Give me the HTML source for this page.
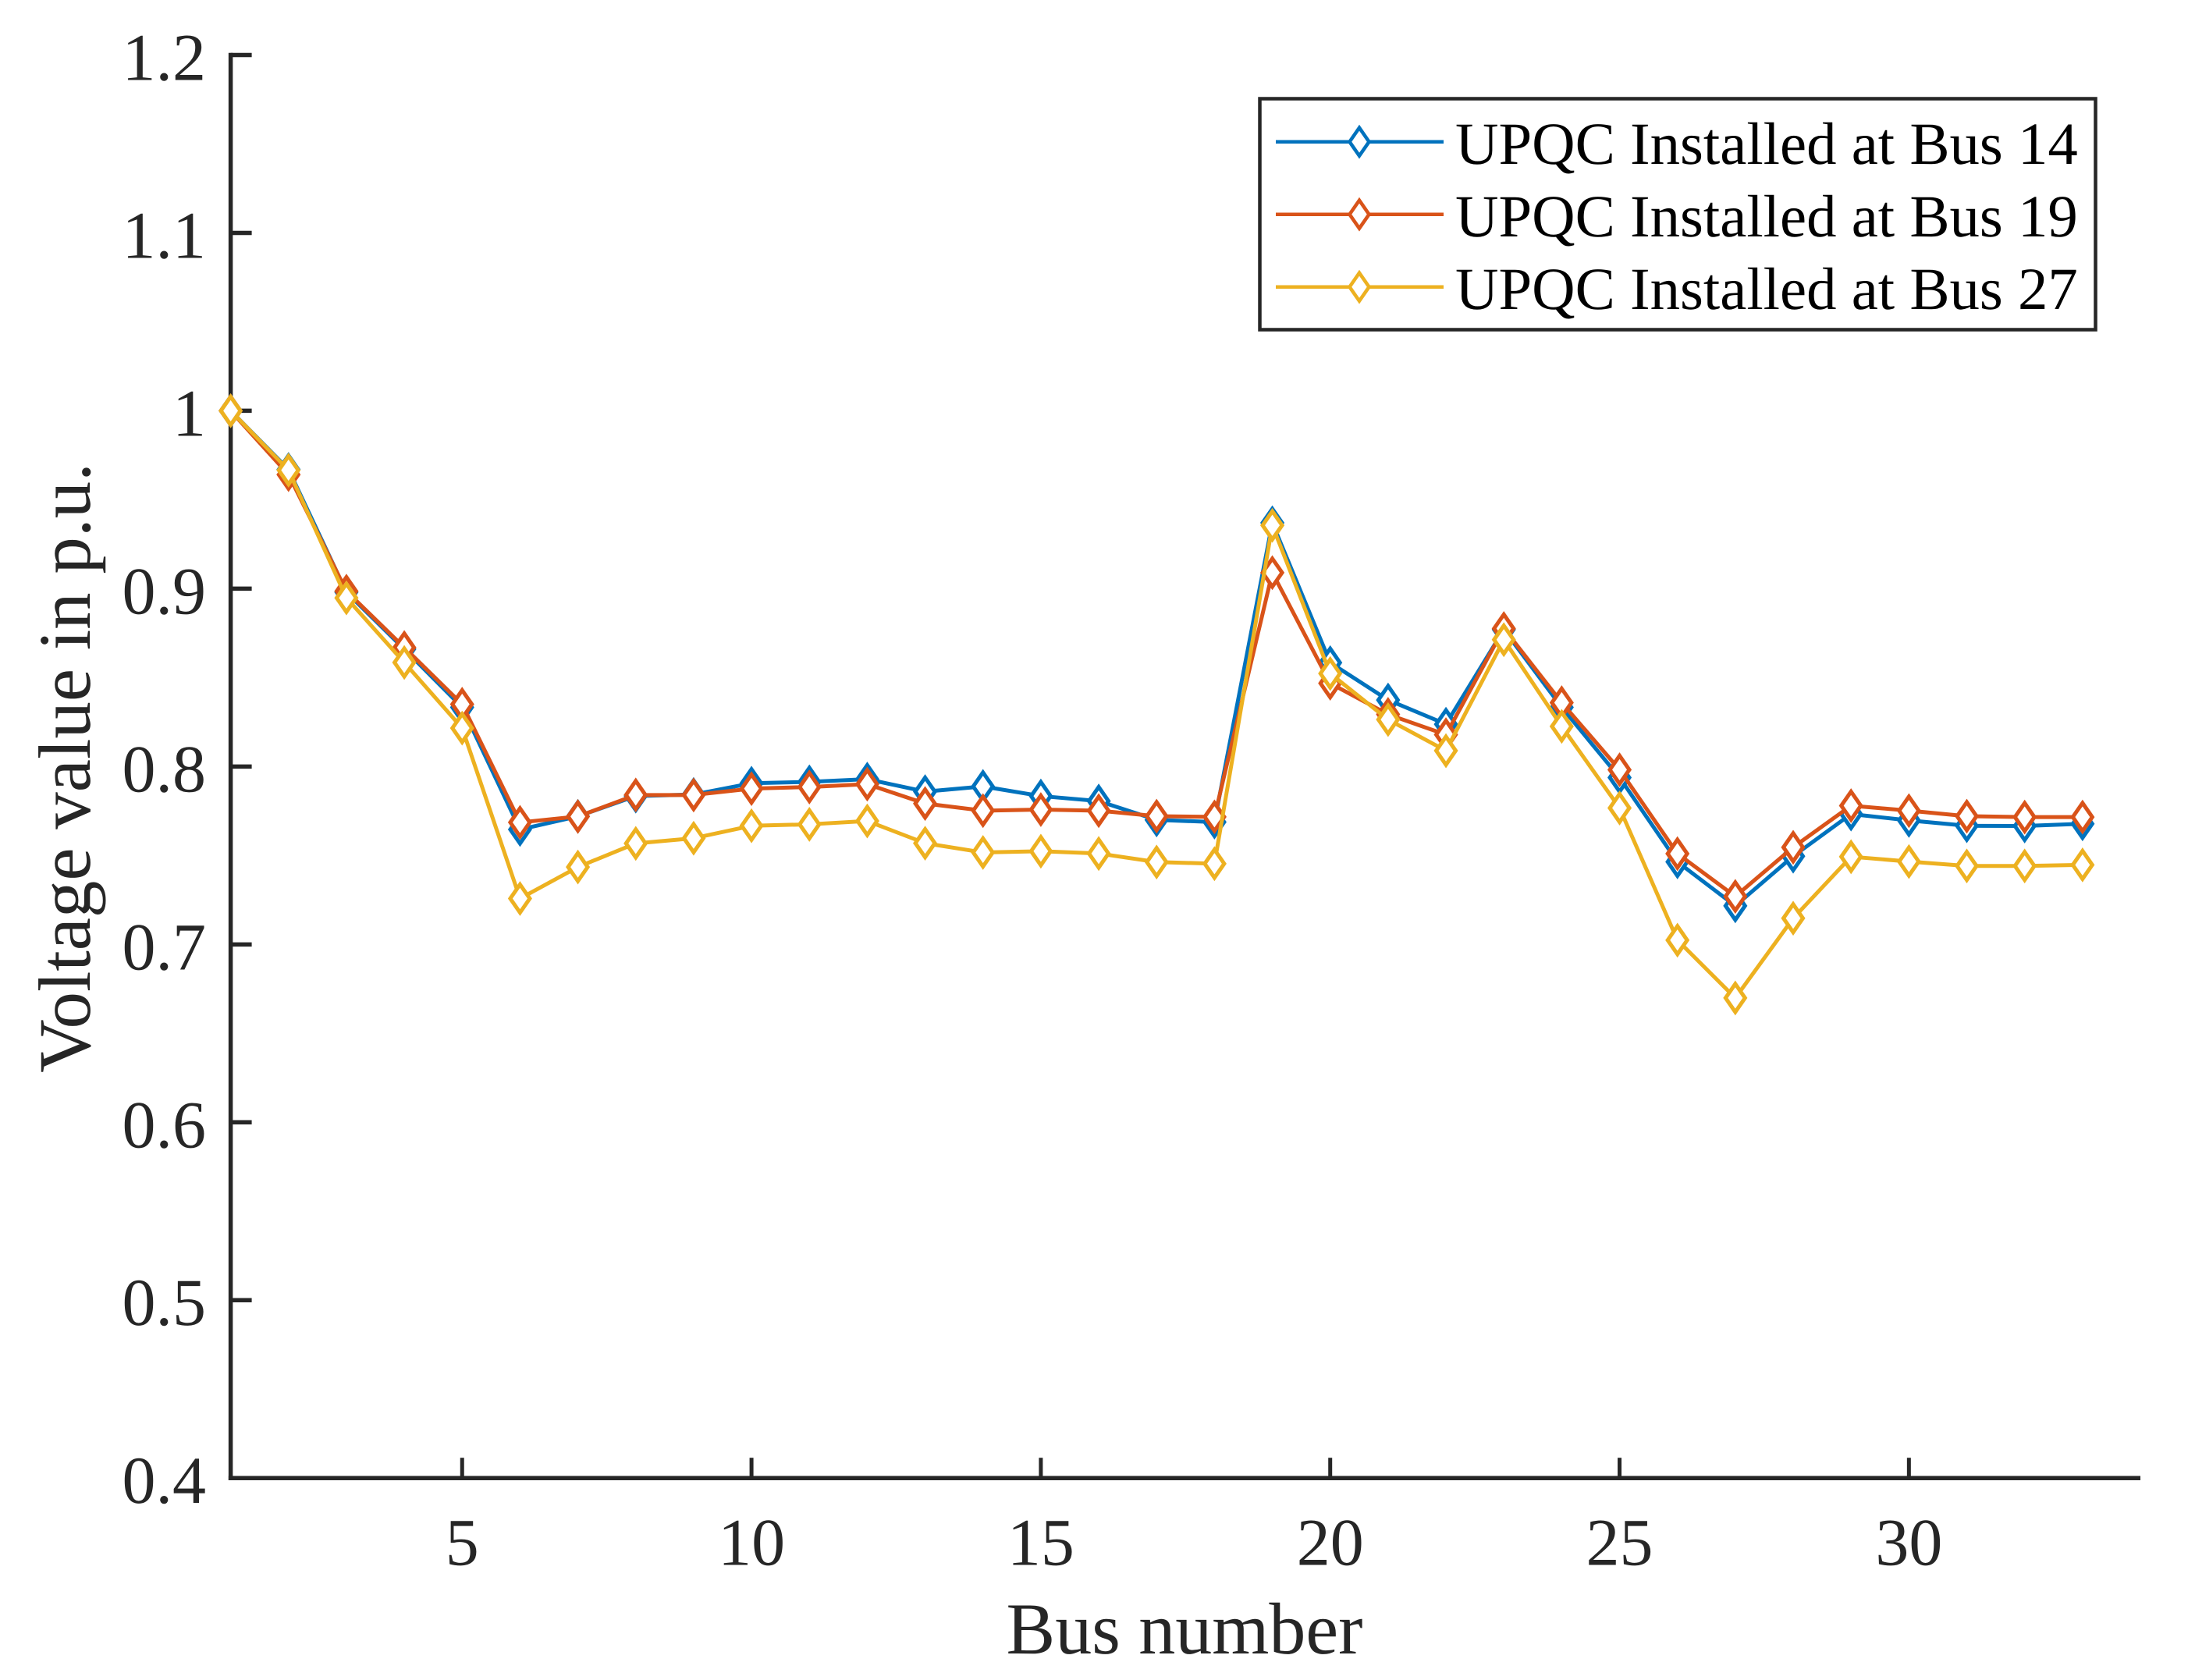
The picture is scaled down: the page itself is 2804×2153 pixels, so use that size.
<!DOCTYPE html>
<html lang="en">
<head>
<meta charset="utf-8">
<title>Voltage profile by bus number</title>
<style>
  html, body { margin: 0; padding: 0; background: #ffffff; }
  svg { display: block; }
  text { font-family: "Liberation Serif", "Times New Roman", serif; text-rendering: geometricPrecision; }
</style>
</head>
<body>
<svg id="chart" xmlns="http://www.w3.org/2000/svg" width="2804" height="2153" viewBox="0 0 2804 2153">
  <rect x="0" y="0" width="2804" height="2153" fill="#ffffff"/>
  <g id="axes"></g>
  <g id="series"></g>
  <text x="1518" y="2119" font-size="94" fill="#262626" text-anchor="middle">Bus number</text>
  <text x="0" y="0" transform="translate(115 984) rotate(-90)" font-size="95" fill="#262626" text-anchor="middle">Voltage value in p.u.</text>
  <g id="legend">
    <rect x="1614.5" y="126.5" width="1071" height="296" fill="#ffffff" stroke="#262626" stroke-width="4.5"/>
  </g>
</svg>
<script>
const buses = [1,2,3,4,5,6,7,8,9,10,11,12,13,14,15,16,17,18,19,20,21,22,23,24,25,26,27,28,29,30,31,32,33];
const bus14Values = [1.0,0.9670,0.8980,0.8660,0.8333,0.7646,0.7720,0.7834,0.7843,0.7906,0.7914,0.7929,0.7859,0.7888,0.7834,0.7806,0.7700,0.7688,0.9370,0.8584,0.8374,0.8238,0.8770,0.8333,0.7938,0.7464,0.7217,0.7496,0.7733,0.7697,0.7667,0.7666,0.7678];
const bus19Values = [1.0,0.9641,0.8986,0.8669,0.8350,0.7686,0.7719,0.7840,0.7840,0.7876,0.7885,0.7901,0.7792,0.7752,0.7758,0.7752,0.7721,0.7717,0.9090,0.8468,0.8293,0.8179,0.8776,0.8359,0.7982,0.7510,0.7270,0.7546,0.7780,0.7752,0.7721,0.7716,0.7716];
const bus27Values = [1.0,0.9666,0.8948,0.8585,0.8216,0.7258,0.7435,0.7568,0.7597,0.7667,0.7675,0.7694,0.7569,0.7517,0.7524,0.7511,0.7463,0.7454,0.9356,0.8523,0.8264,0.8089,0.8713,0.8226,0.7767,0.7024,0.6699,0.7147,0.7493,0.7466,0.7441,0.7441,0.7447];
const seriesNames = ["UPQC Installed at Bus 14","UPQC Installed at Bus 19","UPQC Installed at Bus 27"];
const xTicks = [5,10,15,20,25,30];
const yTicks = [0.4,0.5,0.6,0.7,0.8,0.9,1,1.1,1.2];
const yTickLabels = ["0.4","0.5","0.6","0.7","0.8","0.9","1","1.1","1.2"];
const xDomain = [1,34];
const yDomain = [0.4,1.2];

const plotLeft = 295.6, plotRight = 2743, plotTop = 70.5, plotBottom = 1894.2;
function xScale(v) { return plotLeft + (v - xDomain[0]) / (xDomain[1] - xDomain[0]) * (plotRight - plotLeft); }
function yScale(v) { return plotBottom - (v - yDomain[0]) / (yDomain[1] - yDomain[0]) * (plotBottom - plotTop); }

const NS = "http://www.w3.org/2000/svg";
function mk(tag, parent, attrs) {
  const el = document.createElementNS(NS, tag);
  for (const k in attrs) el.setAttribute(k, attrs[k]);
  parent.appendChild(el);
  return el;
}
function diamond(cx, cy) {
  const a = 18, b = 12.5;
  return [[cx, cy - a], [cx + b, cy], [cx, cy + a], [cx - b, cy]].map(p => p[0].toFixed(2) + "," + p[1].toFixed(2)).join(" ");
}

const axes = document.getElementById("axes");
const ink = "#262626";

yTicks.forEach((t, i) => {
  const y = yScale(t);
  const tick = mk("line", axes, { x1: plotLeft, x2: plotLeft + 27, y1: y, y2: y, stroke: ink, "stroke-width": 5.5 });
  
  
  const label = mk("text", axes, { x: 264, y: y + 32, "font-size": 86, fill: ink, "text-anchor": "end" });
  
  
  label.textContent = yTickLabels[i];
});
xTicks.forEach(t => {
  const x = xScale(t);
  const tick = mk("line", axes, { x1: x, x2: x, y1: plotBottom, y2: plotBottom - 26, stroke: ink, "stroke-width": 5 });
  
  
  const label = mk("text", axes, { x: x, y: 2005.5, "font-size": 86, fill: ink, "text-anchor": "middle" });
  
  
  label.textContent = String(t);
});
const yAxisLine = mk("line", axes, { x1: plotLeft, x2: plotLeft, y1: plotTop - 2.75, y2: plotBottom + 2.75, stroke: ink, "stroke-width": 5.5 });


const xAxisLine = mk("line", axes, { x1: plotLeft - 2.75, x2: plotRight, y1: plotBottom, y2: plotBottom, stroke: ink, "stroke-width": 5.5 });



const seriesValues = [bus14Values, bus19Values, bus27Values];
const seriesColors = ["#0072BD", "#D95319", "#EDB120"];
const seriesGroup = document.getElementById("series");
seriesValues.forEach((vals, s) => {
  const g = mk("g", seriesGroup, {});
  
  
  const pts = vals.map((v, i) => xScale(buses[i]).toFixed(2) + "," + yScale(v).toFixed(2)).join(" ");
  const line = mk("polyline", g, { points: pts, fill: "none", stroke: seriesColors[s], "stroke-width": 5, "stroke-linejoin": "round" });
  
  
  vals.forEach((v, i) => {
    const m = mk("polygon", g, { points: diamond(xScale(buses[i]), yScale(v)), fill: "#ffffff", stroke: seriesColors[s], "stroke-width": 5 });
    
    
  });
});

const legend = document.getElementById("legend");
const legendRows = [181.7, 274.7, 367.7];
seriesNames.forEach((name, s) => {
  const cy = legendRows[s];
  const sample = mk("line", legend, { x1: 1635, x2: 1850, y1: cy, y2: cy, stroke: seriesColors[s], "stroke-width": 4.5 });
  
  
  const mark = mk("polygon", legend, { points: diamond(1742, cy), fill: "#ffffff", stroke: seriesColors[s], "stroke-width": 4.5 });
  
  
  const label = mk("text", legend, { x: 1865, y: cy + 28.5, "font-size": 76.8, fill: "#000000" });
  
  
  label.textContent = name;
});
</script>
</body>
</html>
